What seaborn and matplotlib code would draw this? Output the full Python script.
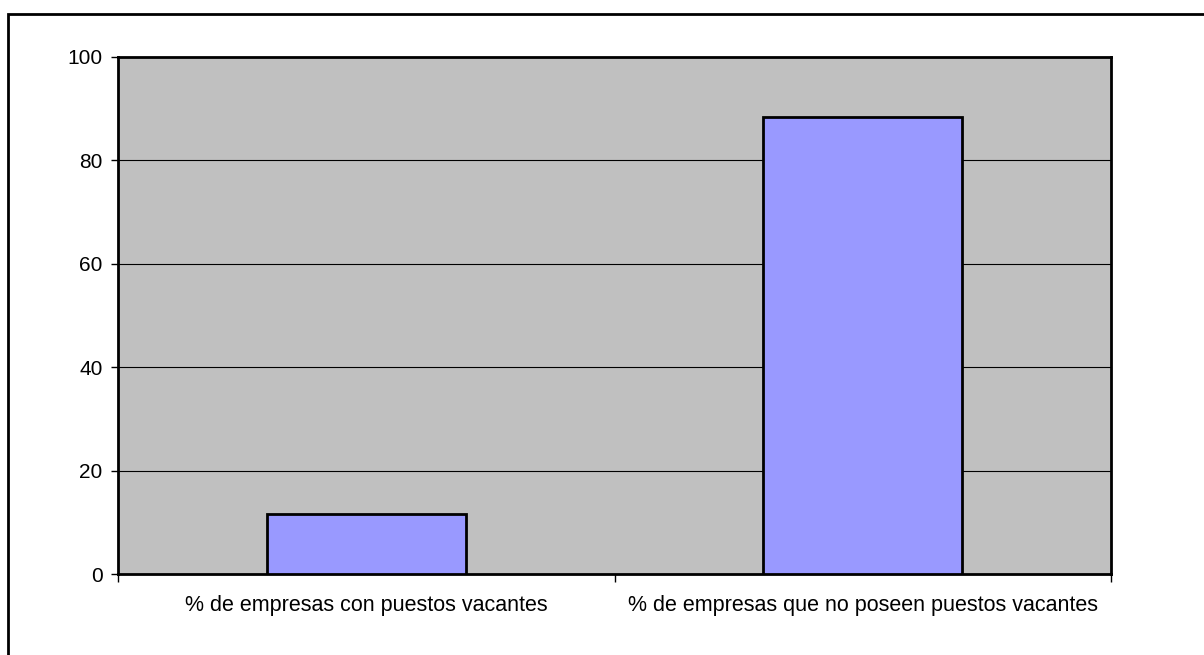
import matplotlib
matplotlib.use("Agg")
import matplotlib.pyplot as plt
import seaborn as sns
import pandas as pd
from matplotlib.patches import Rectangle

categories = [
    "% de empresas con puestos vacantes",
    "% de empresas que no poseen puestos vacantes",
]
values = [11.7, 88.3]
y_ticks = [0, 20, 40, 60, 80, 100]

sns.set_theme(style="white")
plt.rcParams["font.family"] = ["Liberation Sans", "DejaVu Sans"]

df = pd.DataFrame({"categoria": categories, "valor": values})

fig = plt.figure(figsize=(12.04, 6.55), dpi=100)
ax = fig.add_axes([118 / 1204, 1 - 574 / 655, (1111 - 118) / 1204, (574 - 57) / 655])

# outer chart frame (right/bottom run off the image)
fig.patches.append(Rectangle((8 / 1204, -0.1), 1.2, 1 - 14 / 655 + 0.1,
                             transform=fig.transFigure, fill=False,
                             edgecolor="black", linewidth=2, zorder=0))

ax.set_facecolor("#c0c0c0")
sns.barplot(data=df, x="categoria", y="valor", color="#9999ff", width=0.4,
            edgecolor="black", linewidth=2, saturation=1, ax=ax, zorder=3)

ax.set_xlim(-0.5, 1.5)
ax.set_ylim(0, 100)
ax.set_yticks(y_ticks)
ax.set_xlabel("")
ax.set_ylabel("")

for y in y_ticks[1:-1]:
    ax.axhline(y, color="black", linewidth=0.8, zorder=1)

for side in ["left", "right", "top", "bottom"]:
    ax.spines[side].set_visible(True)
    ax.spines[side].set_color("black")
    ax.spines[side].set_linewidth(2)

ax.tick_params(axis="y", which="major", left=True, length=5, width=1,
               color="black", labelcolor="black", labelsize=15, pad=6)
ax.tick_params(axis="x", which="major", bottom=False, length=0,
               labelcolor="black", labelsize=15.5, pad=15)
ax.set_xticks([-0.5, 0.5, 1.5], minor=True)
ax.tick_params(axis="x", which="minor", bottom=True, length=6, width=1, color="black")

fig.savefig("out.png", dpi=100)
